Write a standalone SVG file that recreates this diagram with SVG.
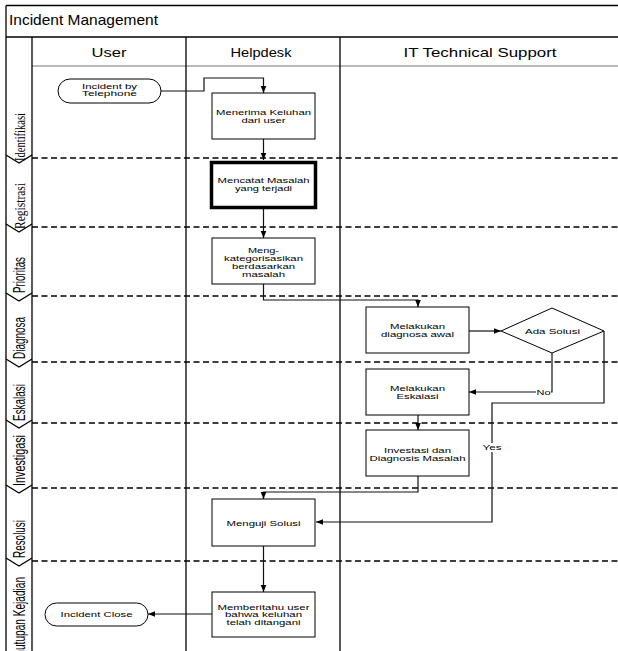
<svg xmlns="http://www.w3.org/2000/svg" width="618" height="651" viewBox="0 0 618 651">
<style>
.frame{fill:none;stroke:#000;stroke-width:1.3}
.sep{fill:none;stroke:#000;stroke-width:1.6;stroke-dasharray:6 3.5}
.box{fill:#fff;stroke:#000;stroke-width:1}
.thick{fill:#fff;stroke:#000;stroke-width:3.5}
.t{font-family:"Liberation Sans",Arial,sans-serif;font-size:7.2px;fill:#000;text-anchor:middle}
.hdr{font-family:"Liberation Sans",Arial,sans-serif;font-size:13.5px;fill:#000;text-anchor:middle}
.title{font-family:"Liberation Sans",Arial,sans-serif;font-size:15px;fill:#000}
.lane{font-family:"Liberation Sans",Arial,sans-serif;font-size:16px;fill:#000}
.lanes{font-family:"Liberation Serif","Times New Roman",serif;font-size:15px;fill:#000}
.con{fill:none;stroke:#111;stroke-width:1.2}
.chev{fill:none;stroke:#000;stroke-width:1.3}
.lbl{fill:#fff}
</style>
<defs>
<marker id="arr" viewBox="0 0 10 10" refX="10" refY="5" markerWidth="7" markerHeight="7" markerUnits="userSpaceOnUse" orient="auto">
<path d="M0,1 L10,5 L0,9 z" fill="#000"/>
</marker>
</defs>
<rect x="0" y="0" width="618" height="651" fill="#fff"/>
<g id="frame">
<line class="frame" x1="6" y1="5.5" x2="618" y2="5.5"/>
<line class="frame" x1="6" y1="5.5" x2="6" y2="651"/>
<line class="frame" x1="6" y1="37" x2="618" y2="37"/>
<line x1="32" y1="66" x2="618" y2="66" stroke="#777" stroke-width="1.2"/>
<line class="frame" x1="32" y1="37" x2="32" y2="651"/>
<line class="frame" x1="186" y1="37" x2="186" y2="651"/>
<line class="frame" x1="340" y1="37" x2="340" y2="651"/>
<text class="title" x="9" y="25" textLength="149" lengthAdjust="spacingAndGlyphs">Incident Management</text>
<text class="hdr" x="109" y="57" textLength="35" lengthAdjust="spacingAndGlyphs">User</text>
<text class="hdr" x="261" y="57" textLength="61" lengthAdjust="spacingAndGlyphs">Helpdesk</text>
<text class="hdr" x="480" y="57" textLength="153" lengthAdjust="spacingAndGlyphs">IT Technical Support</text>
</g>
<g id="separators">
<line class="sep" x1="32" y1="158" x2="618" y2="158"/>
<line class="sep" x1="32" y1="227" x2="618" y2="227"/>
<line class="sep" x1="32" y1="296" x2="618" y2="296"/>
<line class="sep" x1="32" y1="362" x2="618" y2="362"/>
<line class="sep" x1="32" y1="423" x2="618" y2="423"/>
<line class="sep" x1="32" y1="488" x2="618" y2="488"/>
<line class="sep" x1="32" y1="561" x2="618" y2="561"/>
</g>
<g id="phase-labels">
<text class="lanes" transform="translate(25,161) rotate(-90)" textLength="48" lengthAdjust="spacingAndGlyphs">Identifikasi</text>
<text class="lanes" transform="translate(25,229) rotate(-90)" textLength="46" lengthAdjust="spacingAndGlyphs">Registrasi</text>
<text class="lane" transform="translate(25,293) rotate(-90)" textLength="36" lengthAdjust="spacingAndGlyphs">Prioritas</text>
<text class="lane" transform="translate(25,359) rotate(-90)" textLength="42" lengthAdjust="spacingAndGlyphs">Diagnosa</text>
<text class="lane" transform="translate(25,421) rotate(-90)" textLength="37" lengthAdjust="spacingAndGlyphs">Eskalasi</text>
<text class="lane" transform="translate(25,486) rotate(-90)" textLength="51" lengthAdjust="spacingAndGlyphs">Investigasi</text>
<text class="lane" transform="translate(25,558) rotate(-90)" textLength="38" lengthAdjust="spacingAndGlyphs">Resolusi</text>
<text class="lane" transform="translate(25,668) rotate(-90)" textLength="91" lengthAdjust="spacingAndGlyphs">Penutupan Kejadian</text>
<path class="chev" d="M6,155 L19,163 L32,155"/>
<path class="chev" d="M6,224 L19,232 L32,224"/>
<path class="chev" d="M6,293 L19,301 L32,293"/>
<path class="chev" d="M6,359 L19,367 L32,359"/>
<path class="chev" d="M6,420 L19,428 L32,420"/>
<path class="chev" d="M6,485 L19,493 L32,485"/>
<path class="chev" d="M6,558 L19,566 L32,558"/>
</g>
<g id="connectors">
<path class="con" d="M161,91 H204 V78 H263.5 V93" marker-end="url(#arr)"/>
<path class="con" d="M263.5,139 V160" marker-end="url(#arr)"/>
<path class="con" d="M263.5,209 V238" marker-end="url(#arr)"/>
<path class="con" d="M263.5,284 V300 H418 V307" marker-end="url(#arr)"/>
<path class="con" d="M469,331 H501" marker-end="url(#arr)"/>
<path class="con" d="M552,353 V392 H469" marker-end="url(#arr)"/>
<path class="con" d="M604,331 V403 H492 V522 H316" marker-end="url(#arr)"/>
<path class="con" d="M418,415 V430" marker-end="url(#arr)"/>
<path class="con" d="M418,476 V492 H263.5 V499" marker-end="url(#arr)"/>
<path class="con" d="M263.5,546 V592" marker-end="url(#arr)"/>
<path class="con" d="M212,614 H148" marker-end="url(#arr)"/>
<rect class="lbl" x="536" y="388" width="15" height="9"/>
<text class="t" x="543.5" y="394.5" textLength="14" lengthAdjust="spacingAndGlyphs">No</text>
<rect class="lbl" x="482" y="443" width="20" height="9"/>
<text class="t" x="492" y="449.5" textLength="19" lengthAdjust="spacingAndGlyphs">Yes</text>
</g>
<g id="incident-by-telephone">
<rect class="box" x="58" y="79" width="103" height="24" rx="12" ry="12"/>
<text class="t" x="109.5" y="88.5" textLength="55" lengthAdjust="spacingAndGlyphs">Incident by</text>
<text class="t" x="109.5" y="96" textLength="55" lengthAdjust="spacingAndGlyphs">Telephone</text>
</g>
<g id="menerima-keluhan">
<rect class="box" x="212" y="93" width="103" height="46"/>
<text class="t" x="263.5" y="115" textLength="95" lengthAdjust="spacingAndGlyphs">Menerima Keluhan</text>
<text class="t" x="263.5" y="123" textLength="44" lengthAdjust="spacingAndGlyphs">dari user</text>
</g>
<g id="mencatat-masalah">
<rect class="thick" x="211.5" y="162.5" width="104" height="45"/>
<text class="t" x="263.5" y="182.5" textLength="92" lengthAdjust="spacingAndGlyphs">Mencatat Masalah</text>
<text class="t" x="263.5" y="190.5" textLength="57" lengthAdjust="spacingAndGlyphs">yang terjadi</text>
</g>
<g id="mengkategorisasikan">
<rect class="box" x="212" y="238" width="103" height="46"/>
<text class="t" x="263.5" y="252.5" textLength="31" lengthAdjust="spacingAndGlyphs">Meng-</text>
<text class="t" x="263.5" y="260.5" textLength="79" lengthAdjust="spacingAndGlyphs">kategorisasikan</text>
<text class="t" x="263.5" y="268.5" textLength="63" lengthAdjust="spacingAndGlyphs">berdasarkan</text>
<text class="t" x="263.5" y="276.5" textLength="43" lengthAdjust="spacingAndGlyphs">masalah</text>
</g>
<g id="diagnosa-awal">
<rect class="box" x="366" y="307" width="103" height="46"/>
<text class="t" x="417.5" y="328.5" textLength="55" lengthAdjust="spacingAndGlyphs">Melakukan</text>
<text class="t" x="417.5" y="336.5" textLength="73" lengthAdjust="spacingAndGlyphs">diagnosa awal</text>
</g>
<g id="ada-solusi">
<path class="box" d="M501,331 L552,308 L604,331 L552,353 Z"/>
<text class="t" x="552.5" y="333.5" textLength="55" lengthAdjust="spacingAndGlyphs">Ada Solusi</text>
</g>
<g id="eskalasi">
<rect class="box" x="366" y="369" width="103" height="46"/>
<text class="t" x="417.5" y="390.5" textLength="55" lengthAdjust="spacingAndGlyphs">Melakukan</text>
<text class="t" x="417.5" y="398.5" textLength="42" lengthAdjust="spacingAndGlyphs">Eskalasi</text>
</g>
<g id="investasi">
<rect class="box" x="366" y="430" width="103" height="46"/>
<text class="t" x="417.5" y="452.5" textLength="67" lengthAdjust="spacingAndGlyphs">Investasi dan</text>
<text class="t" x="417.5" y="460.5" textLength="96" lengthAdjust="spacingAndGlyphs">Diagnosis Masalah</text>
</g>
<g id="menguji-solusi">
<rect class="box" x="212" y="499" width="103" height="47"/>
<text class="t" x="263.5" y="525.5" textLength="74" lengthAdjust="spacingAndGlyphs">Menguji Solusi</text>
</g>
<g id="memberitahu-user">
<rect class="box" x="212" y="592" width="103" height="45"/>
<text class="t" x="263.5" y="609.5" textLength="92" lengthAdjust="spacingAndGlyphs">Memberitahu user</text>
<text class="t" x="263.5" y="617" textLength="77" lengthAdjust="spacingAndGlyphs">bahwa keluhan</text>
<text class="t" x="263.5" y="624.5" textLength="74" lengthAdjust="spacingAndGlyphs">telah ditangani</text>
</g>
<g id="incident-close">
<rect class="box" x="45" y="603" width="103" height="23" rx="11.5" ry="11.5"/>
<text class="t" x="96.5" y="617" textLength="72" lengthAdjust="spacingAndGlyphs">Incident Close</text>
</g>
</svg>
